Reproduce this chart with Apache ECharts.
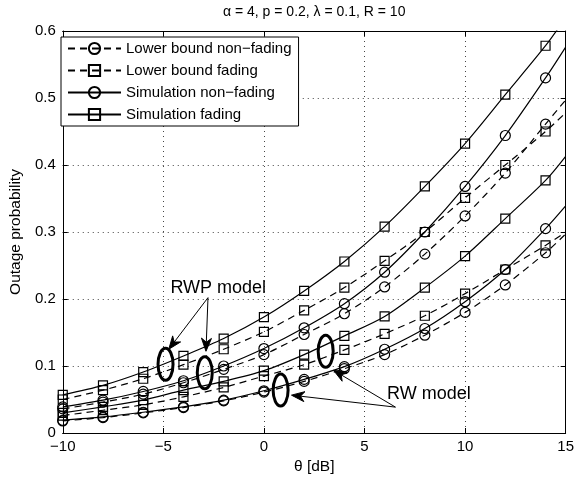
<!DOCTYPE html>
<html>
<head>
<meta charset="utf-8">
<script src="https://cdn.jsdelivr.net/npm/echarts@6/dist/echarts.min.js"></script>
<style>
html,body{margin:0;padding:0;background:#fff;}
#chart{width:577px;height:480px;}
</style>
</head>
<body>
<div id="chart"></div>
<script>
// ---- data ----
const thetaDb = [-10, -8, -6, -4, -2, 0, 2, 4, 6, 8, 10, 12, 14, 15];

// RWP model
const rwpLowerNonFading = [0.036, 0.046, 0.058, 0.075, 0.095, 0.117, 0.147, 0.178, 0.218, 0.267, 0.324, 0.388, 0.461, 0.497];
const rwpLowerFading    = [0.050, 0.064, 0.081, 0.102, 0.125, 0.151, 0.183, 0.217, 0.257, 0.300, 0.351, 0.400, 0.450, 0.478];
const rwpSimNonFading   = [0.039, 0.049, 0.062, 0.078, 0.100, 0.126, 0.157, 0.193, 0.240, 0.300, 0.368, 0.444, 0.530, 0.576];
const rwpSimFading      = [0.057, 0.071, 0.091, 0.115, 0.141, 0.173, 0.212, 0.256, 0.308, 0.368, 0.432, 0.505, 0.578, 0.620];

// RW model
const rwLowerNonFading  = [0.018, 0.023, 0.030, 0.038, 0.048, 0.061, 0.077, 0.096, 0.117, 0.146, 0.180, 0.221, 0.269, 0.297];
const rwLowerFading     = [0.026, 0.034, 0.042, 0.054, 0.068, 0.085, 0.102, 0.124, 0.148, 0.175, 0.208, 0.244, 0.280, 0.300];
const rwSimNonFading    = [0.019, 0.024, 0.031, 0.039, 0.049, 0.063, 0.080, 0.099, 0.125, 0.156, 0.196, 0.244, 0.305, 0.339];
const rwSimFading       = [0.030, 0.039, 0.049, 0.064, 0.077, 0.093, 0.117, 0.145, 0.174, 0.217, 0.264, 0.320, 0.377, 0.413];

const legendNames = ['Lower bound non\u2212fading', 'Lower bound fading', 'Simulation non\u2212fading', 'Simulation fading'];
const titleText = '\u03b1 = 4, p = 0.2, \u03bb = 0.1, R = 10';
const xName = '\u03b8 [dB]';
const yName = 'Outage probability';
const xTicks = { min: -10, max: 15, interval: 5 };
const yTicks = { min: 0, max: 0.6, interval: 0.1 };

// ---- chart ----
const FONT = "'Liberation Sans', Arial, Helvetica, sans-serif";
const chart = echarts.init(document.getElementById('chart'), null, { renderer: 'canvas' });

function pts(vals) {
  return thetaDb.map((x, i) => i === thetaDb.length - 1
    ? { value: [x, vals[i]], symbol: 'none' }
    : [x, vals[i]]);
}
function mkSeries(name, vals, dashed, sym) {
  return {
    type: 'line', name: name, data: pts(vals),
    smooth: 0.3, clip: true,
    symbol: sym === 'circle' ? 'circle' : 'rect',
    symbolSize: sym === 'circle' ? 10 : 9,
    showAllSymbol: true,
    lineStyle: { color: '#000', width: 1.2, type: dashed ? [7, 5] : 'solid' },
    itemStyle: { color: 'rgba(0,0,0,0)', borderColor: '#000', borderWidth: 1.2 },
    emphasis: { disabled: true },
    animation: false
  };
}

const series = [
  mkSeries(legendNames[0], rwpLowerNonFading, true, 'circle'),
  mkSeries(legendNames[1], rwpLowerFading, true, 'rect'),
  mkSeries(legendNames[2], rwpSimNonFading, false, 'circle'),
  mkSeries(legendNames[3], rwpSimFading, false, 'rect'),
  mkSeries(legendNames[0], rwLowerNonFading, true, 'circle'),
  mkSeries(legendNames[1], rwLowerFading, true, 'rect'),
  mkSeries(legendNames[2], rwSimNonFading, false, 'circle'),
  mkSeries(legendNames[3], rwSimFading, false, 'rect')
];

const axisCommonX = {
  type: 'value', min: xTicks.min, max: xTicks.max, interval: xTicks.interval,
  axisLine: { onZero: false, lineStyle: { color: '#000', width: 1 } },
  axisTick: { inside: true, length: 5, lineStyle: { color: '#000' } }
};
const axisCommonY = {
  type: 'value', min: yTicks.min, max: yTicks.max, interval: yTicks.interval,
  axisLine: { onZero: false, lineStyle: { color: '#000', width: 1 } },
  axisTick: { inside: true, length: 5, lineStyle: { color: '#000' } }
};

chart.setOption({
  animation: false,
  backgroundColor: '#fff',
  textStyle: { fontFamily: FONT },
  grid: { left: 57, right: 8, top: 31, bottom: 46, containLabel: false },
  legend: {
    data: legendNames,
    orient: 'vertical',
    left: 61, top: 37,
    backgroundColor: '#fff',
    borderColor: '#000', borderWidth: 1, borderRadius: 0,
    padding: [4, 7, 4, 6],
    itemGap: 7,
    itemWidth: 53, itemHeight: 14,
    textStyle: { fontFamily: FONT, fontSize: 15, color: '#000' },
    selectedMode: false
  },
  xAxis: [
    Object.assign({}, axisCommonX, {
      position: 'bottom',
      name: xName, nameLocation: 'middle', nameGap: 26,
      nameTextStyle: { fontFamily: FONT, fontSize: 15.5, color: '#000' },
      axisLabel: { fontFamily: FONT, fontSize: 15, color: '#000', margin: 6,
        formatter: v => String(v).replace('-', '\u2212') },
      splitLine: { show: true, lineStyle: { color: '#444', width: 1, type: [1, 4] } }
    }),
    Object.assign({}, axisCommonX, {
      position: 'top', axisLabel: { show: false }, splitLine: { show: false }
    })
  ],
  yAxis: [
    Object.assign({}, axisCommonY, {
      position: 'left',
      name: yName, nameLocation: 'middle', nameGap: 38,
      nameTextStyle: { fontFamily: FONT, fontSize: 15.5, color: '#000' },
      axisLabel: { fontFamily: FONT, fontSize: 15, color: '#000', margin: 7 },
      splitLine: { show: true, lineStyle: { color: '#444', width: 1, type: [1, 4] } }
    }),
    Object.assign({}, axisCommonY, {
      position: 'right', axisLabel: { show: false }, splitLine: { show: false }
    })
  ],
  series: series
});

// ---- annotations (positioned in data coordinates) ----
function px(x, y) { return chart.convertToPixel({ gridIndex: 0 }, [x, y]); }

const ellipsesAt = [[-4.89, 0.1025], [-2.94, 0.090], [0.83, 0.064], [3.07, 0.122]];
const rwpArrow = { from: [-2.78, 0.202], to: [[-4.73, 0.125], [-2.88, 0.122]] };
const rwArrow  = { from: [6.54, 0.0386], to: [[1.37, 0.0565], [3.46, 0.0936]] };
const rwpLabelAt = [-2.27, 0.217];
const rwLabelAt  = [8.2, 0.058];

const g = [];
ellipsesAt.forEach(p => {
  const c = px(p[0], p[1]);
  g.push({ type: 'ellipse', shape: { cx: c[0], cy: c[1], rx: 7.5, ry: 16 },
    style: { fill: 'none', stroke: '#000', lineWidth: 3 }, z: 100 });
});
function arrow(from, to) {
  const a = px(from[0], from[1]);
  const b = px(to[0], to[1]);
  const dx = b[0] - a[0], dy = b[1] - a[1];
  const L = Math.sqrt(dx * dx + dy * dy);
  const ux = dx / L, uy = dy / L, nx = -uy, ny = ux;
  const head = 13, hw = 5, notch = 4;
  const baseX = b[0] - ux * head, baseY = b[1] - uy * head;
  g.push({ type: 'line', shape: { x1: a[0], y1: a[1], x2: b[0] - ux * 4, y2: b[1] - uy * 4 },
    style: { stroke: '#000', lineWidth: 1 }, z: 100 });
  g.push({ type: 'polygon', shape: { points: [
      [b[0], b[1]],
      [baseX + nx * hw, baseY + ny * hw],
      [baseX + ux * notch, baseY + uy * notch],
      [baseX - nx * hw, baseY - ny * hw]
    ] }, style: { fill: '#000', stroke: '#000', lineWidth: 1 }, z: 100 });
}
rwpArrow.to.forEach(t => arrow(rwpArrow.from, t));
rwArrow.to.forEach(t => arrow(rwArrow.from, t));

const l1 = px(rwpLabelAt[0], rwpLabelAt[1]);
const l2 = px(rwLabelAt[0], rwLabelAt[1]);
g.push({ type: 'text', x: l1[0], y: l1[1], z: 100,
  style: { text: 'RWP model', fontFamily: FONT, fontSize: 18, fill: '#000', textAlign: 'center', textVerticalAlign: 'middle' } });
g.push({ type: 'text', x: l2[0], y: l2[1], z: 100,
  style: { text: 'RW model', fontFamily: FONT, fontSize: 18, fill: '#000', textAlign: 'center', textVerticalAlign: 'middle' } });

const gc = px((xTicks.min + xTicks.max) / 2, yTicks.max);
g.push({ type: 'text', x: gc[0], y: 12, z: 100,
  style: { text: titleText, fontFamily: FONT, fontSize: 14, fill: '#000', textAlign: 'center', textVerticalAlign: 'middle' } });

chart.setOption({ graphic: g });
</script>
</body>
</html>
